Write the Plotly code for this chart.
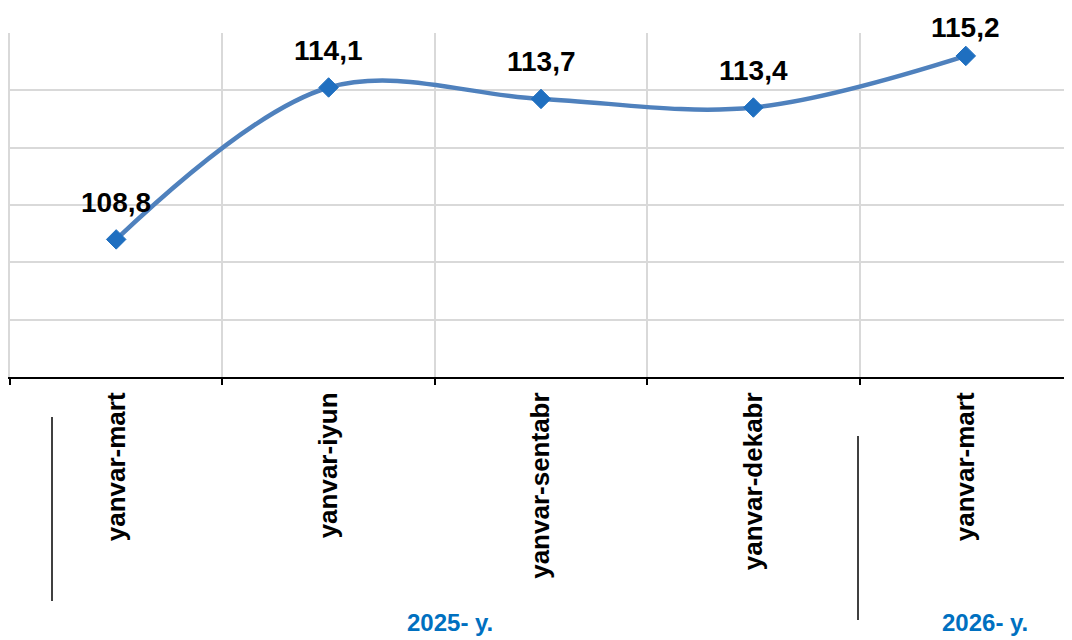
import plotly.graph_objects as go

categories = ["yanvar-mart", "yanvar-iyun", "yanvar-sentabr", "yanvar-dekabr", "yanvar-mart "]
values = [108.8, 114.1, 113.7, 113.4, 115.2]
value_labels = ["108,8", "114,1", "113,7", "113,4", "115,2"]
groups = ["2025- y.", "2026- y."]

Y_MIN, Y_MAX = 104, 116

OFF = 8  # browser body margin
W, H = 1072 - OFF, 640 - OFF
L, R, T, B = 10 - OFF, 0, 33 - OFF, 640 - 377
pw = W - L - R
ph = H - T - B

def px_to_paper_x(px):
    return (px - OFF - L) / pw

def py_to_paper_y(py):
    return (H - B - (py - OFF)) / ph

fig = go.Figure()
fig.add_trace(go.Scatter(
    x=list(range(len(categories))), y=values,
    mode="lines+markers",
    line=dict(shape="spline", smoothing=1, color="#4F81BD", width=4.5),
    marker=dict(symbol="diamond", size=15, color="#1F6FC0",
                line=dict(color="#1F6FC0", width=1)),
    cliponaxis=False,
    hoverinfo="skip",
))

annotations = []
LABEL_GAP = 37
for i, (v, lab) in enumerate(zip(values, value_labels)):
    # keep label inside the chart area like the original (label pushed down near top)
    point_px = T + (Y_MAX - v) / (Y_MAX - Y_MIN) * ph
    shift = min(LABEL_GAP, point_px - 20)
    annotations.append(dict(
        x=i, y=v, xref="x", yref="y", text=f"<b>{lab}</b>", showarrow=False,
        xanchor="center", yanchor="middle",
        yshift=shift, font=dict(family="Liberation Sans, Arial", size=28, color="black"),
    ))

for gx, gtext in zip([450, 985], groups):
    annotations.append(dict(x=px_to_paper_x(gx), y=py_to_paper_y(622), xref="paper", yref="paper",
                            xanchor="center", yanchor="middle", borderpad=0,
                            text=f"<b>{gtext}</b>", showarrow=False,
                            font=dict(family="Liberation Sans, Arial", size=24, color="#0070C0")))

shapes = [
    dict(type="line", xref="paper", yref="paper",
         x0=px_to_paper_x(52), x1=px_to_paper_x(52),
         y0=py_to_paper_y(417), y1=py_to_paper_y(601),
         line=dict(color="black", width=1.5)),
    dict(type="line", xref="paper", yref="paper",
         x0=px_to_paper_x(858), x1=px_to_paper_x(858),
         y0=py_to_paper_y(436), y1=py_to_paper_y(620),
         line=dict(color="black", width=1.5)),
]

fig.update_layout(
    width=W, height=H,
    margin=dict(l=L, r=R, t=T, b=B, pad=0, autoexpand=False),
    paper_bgcolor="white", plot_bgcolor="white",
    showlegend=False,
    annotations=annotations,
    shapes=shapes,
    xaxis=dict(
        tickmode="array", tickvals=list(range(len(categories))),
        ticktext=[f"<b>{c.strip()}</b>" for c in categories],
        range=[-0.5, 4.5],
        tickangle=-90,
        tickfont=dict(family="Liberation Sans, Arial", size=26, color="black"),
        showline=True, linecolor="black", linewidth=2,
        ticks="", showgrid=False, zeroline=False,
        ticklabelstandoff=3,
    ),
    yaxis=dict(
        range=[Y_MIN, Y_MAX], dtick=2, tick0=Y_MIN,
        showticklabels=False, showgrid=True, gridcolor="#D9D9D9", gridwidth=1.5,
        zeroline=False, showline=True, linecolor="#D9D9D9", linewidth=1.5, ticks="",
    ),
    xaxis2=dict(
        overlaying="x", range=[-0.5, 4.5], tickmode="array",
        tickvals=[-0.5, 0.5, 1.5, 2.5, 3.5], showticklabels=False,
        showgrid=True, gridcolor="#D9D9D9", gridwidth=1.5,
        ticks="outside", ticklen=7, tickcolor="black", tickwidth=1.5,
        side="bottom", zeroline=False, showline=False,
    ),
)
fig.add_trace(go.Scatter(x=[None], y=[None], xaxis="x2", showlegend=False, hoverinfo="skip"))

fig.write_html("out.html")
